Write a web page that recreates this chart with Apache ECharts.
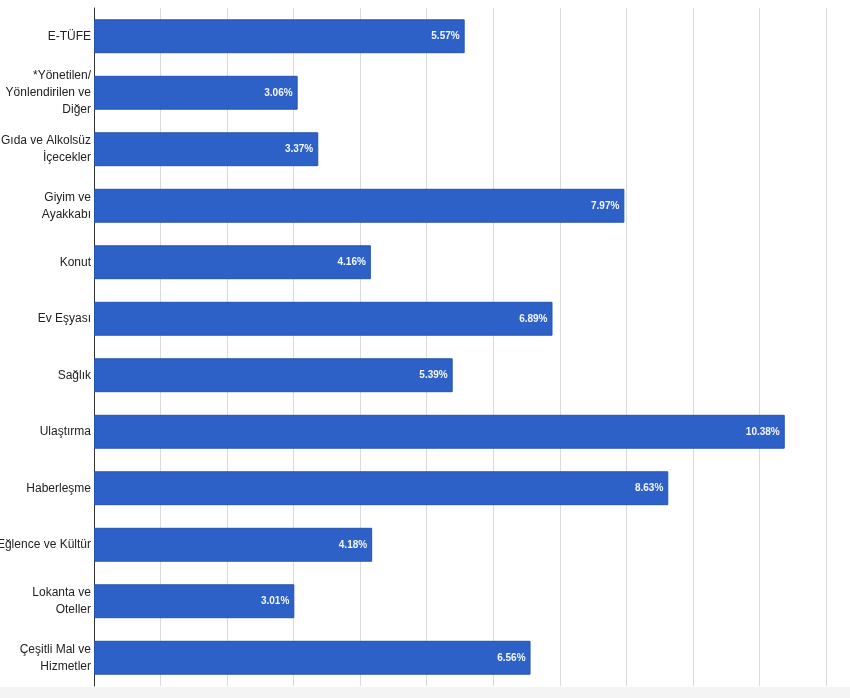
<!DOCTYPE html>
<html>
<head>
<meta charset="utf-8">
<script src="https://cdn.jsdelivr.net/npm/echarts@6/dist/echarts.min.js"></script>
<style>
  html, body { margin: 0; padding: 0; background: #fff; }
  #main { width: 850px; height: 698px; }
</style>
</head>
<body>
<div id="main"></div>
<script>
    "use strict";

    // categories, top to bottom
    var categories = [
        'E-TÜFE',
        '*Yönetilen/\nYönlendirilen ve\nDiğer',
        'Gıda ve Alkolsüz\nİçecekler',
        'Giyim ve\nAyakkabı',
        'Konut',
        'Ev Eşyası',
        'Sağlık',
        'Ulaştırma',
        'Haberleşme',
        'Eğlence ve Kültür',
        'Lokanta ve\nOteller',
        'Çeşitli Mal ve\nHizmetler'
    ];
    var values = [5.57, 3.06, 3.37, 7.97, 4.16, 6.89, 5.39, 10.38, 8.63, 4.18, 3.01, 6.56];
    var xTicks = [0, 11, 1];  // min, max, interval

    var myChart = echarts.init(document.getElementById('main'), null, { renderer: 'canvas' });
    var option = {
        backgroundColor: '#ffffff',
        animation: false,
        textStyle: { fontFamily: '"Liberation Sans", Arial, sans-serif' },
        graphic: [{
            type: 'rect',
            left: 0,
            bottom: 0,
            shape: { width: 850, height: 11 },
            style: { fill: '#f4f4f4' },
            z: -1
        }],
        grid: {
            left: 94, right: 24, top: 8, bottom: 12,
            containLabel: false,
            outerBoundsMode: 'none'
        },
        xAxis: {
            type: 'value',
            min: xTicks[0],
            max: xTicks[1],
            interval: xTicks[2],
            axisLine: { show: false },
            axisTick: { show: false },
            axisLabel: { show: false },
            splitLine: { show: true, lineStyle: { color: '#dadada', width: 1 } }
        },
        yAxis: {
            type: 'category',
            inverse: true,
            data: categories,
            axisLine: { show: true, lineStyle: { color: '#333', width: 1 } },
            axisTick: { show: false },
            axisLabel: {
                color: '#222',
                fontSize: 12,
                lineHeight: 17,
                margin: 3,
                align: 'right'
            },
            splitLine: { show: false }
        },
        series: [{
            type: 'bar',
            data: values,
            barCategoryGap: '40%',
            itemStyle: { color: '#2e61c8', borderColor: '#2452b0', borderWidth: 1 },
            label: {
                show: true,
                position: 'insideRight',
                distance: 5,
                color: '#f4f6fb',
                fontSize: 10,
                fontWeight: 'bold',
                formatter: function(p) { return p.value.toFixed(2) + '%'; }
            }
        }]
    };
    myChart.setOption(option, true);
</script>
</body>
</html>
